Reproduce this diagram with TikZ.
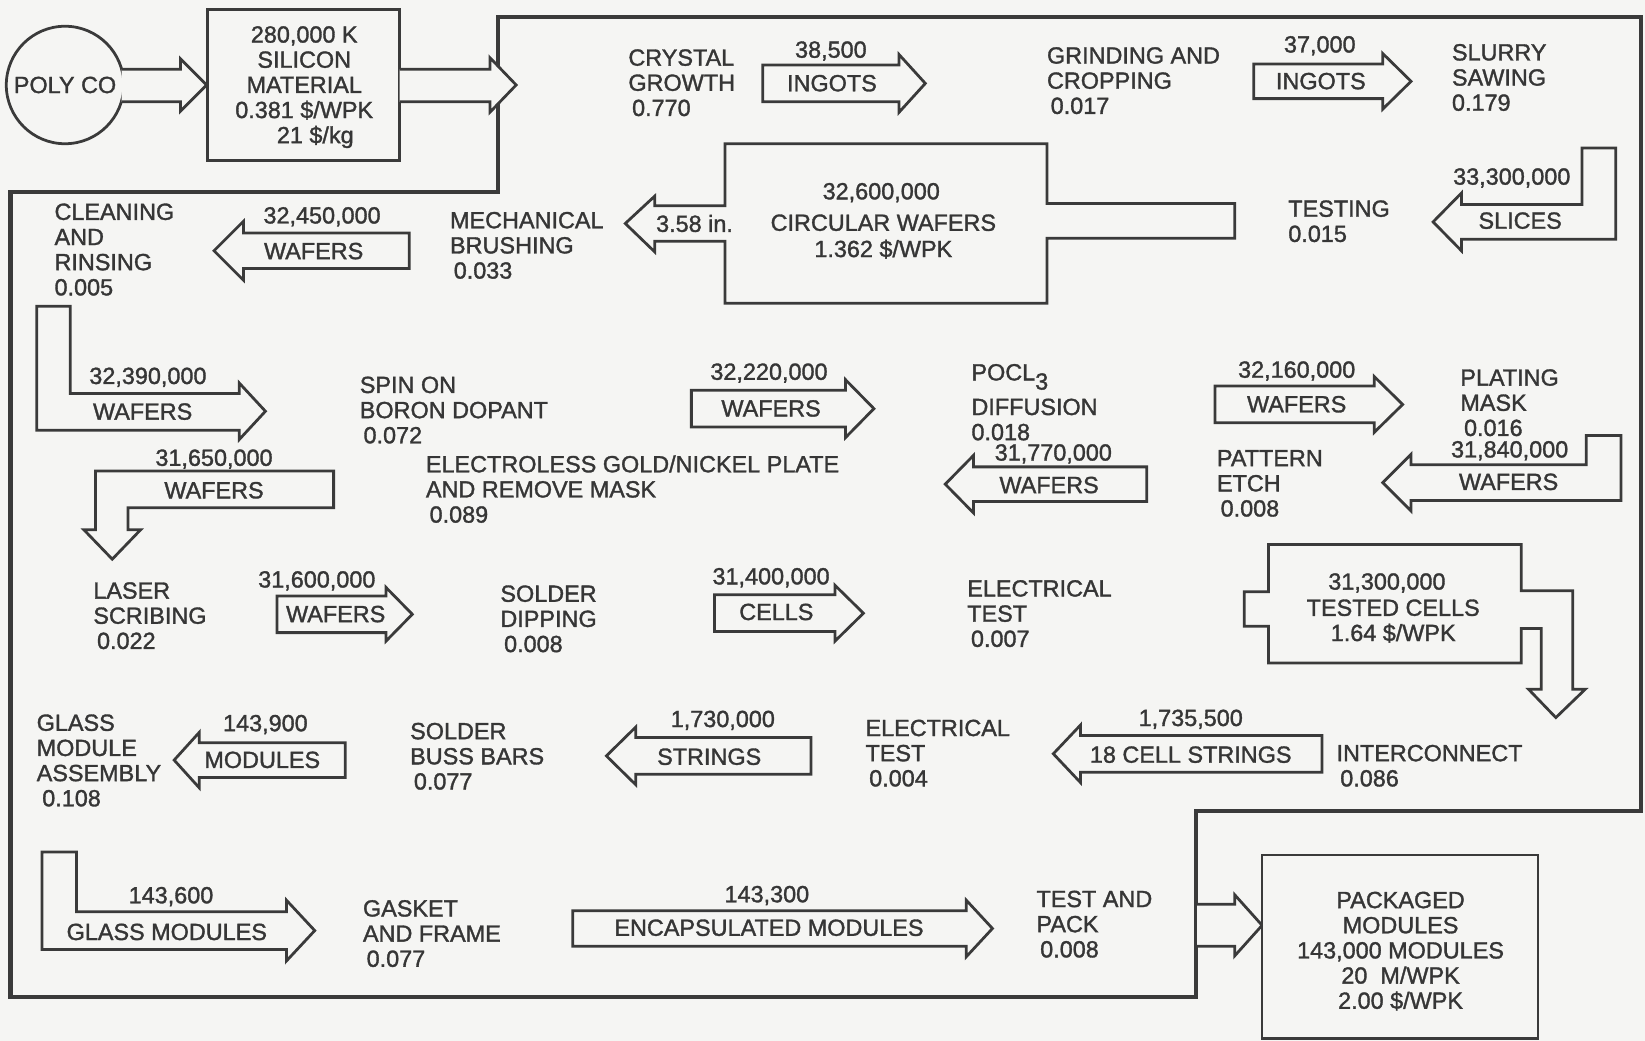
\documentclass[tikz,border=0pt]{standalone}
\usepackage{fontspec}
\setmainfont{Liberation Sans}[FakeBold=1.4]
\definecolor{bgc}{HTML}{F5F5F3}
\definecolor{ink}{HTML}{3A3A3A}
\definecolor{txt}{HTML}{363636}
\tikzset{
 lbl/.style={anchor=north west, inner sep=0pt, outer sep=0pt, align=left, text=txt},
 ctr/.style={anchor=base, inner sep=0pt, outer sep=0pt, text=txt},
 cbox/.style={anchor=north, inner sep=0pt, outer sep=0pt, align=center, text=txt},
 shp/.style={draw=ink, line width=1.5pt, fill=bgc, line join=miter},
 frameline/.style={draw=ink, line width=2.3pt, line join=miter},
}
% block arrow: x-start, x-headbase, x-tip, y-top, y-bottom, overhang
\newcommand\blockarrow[6]{%
 \draw[shp] (#1,#4) -- (#2,#4) -- (#2,{#4-#6}) -- (#3,{(#4+#5)/2}) -- (#2,{#5+#6}) -- (#2,#5) -- (#1,#5) -- cycle;}
\begin{document}
\begin{tikzpicture}[x=0.02cm,y=-0.02cm,font=\fontsize{12.7}{13.65}\selectfont]
\useasboundingbox (0,0) rectangle (1568,992);
\fill[bgc] (0,0) rectangle (1568,992);

% main frame
\draw[frameline] (10,183) -- (475,183) -- (475,16) -- (1564,16) -- (1564,773) -- (1140,773) -- (1140,950) -- (10,950) -- cycle;

% source circle and silicon box
\draw[shp] (62,81) circle (56);
\node[inner sep=0pt, text=txt] (polyco) at (62,81) {POLY CO};
\draw[shp] (116,66) -- (172,66) -- (172,56) -- (197,81) -- (172,106) -- (172,97) -- (116,97);
\draw[shp] (198,9) rectangle (381,153);
\node[cbox] (silicon) at (290,25) {280,000 K\\SILICON\\MATERIAL\\0.381 \$/WPK\\\hspace*{12pt}21 \$/kg};
\draw[shp] (381,66) -- (467,66) -- (467,55) -- (492,81) -- (467,107) -- (467,97) -- (381,97);

% row 1
\node[lbl] (crystal) at (599,47) {CRYSTAL\\GROWTH\\\hspace*{2pt}0.770};
\blockarrow{727}{857}{882}{62}{97}{10}
\node[ctr] (n38) at (792,55) {38,500};
\node[ctr] (ing1) at (793,87) {INGOTS};
\node[lbl] (grind) at (998,45) {GRINDING AND\\CROPPING\\\hspace*{2pt}0.017};
\blockarrow{1195}{1318}{1345}{61}{94}{10}
\node[ctr] (n37) at (1258,50) {37,000};
\node[ctr] (ing2) at (1259,85) {INGOTS};
\node[lbl] (slurry) at (1384,42) {SLURRY\\SAWING\\0.179};

% row 2
\draw[shp] (1508,141) -- (1540,141) -- (1540,228) -- (1393,228) -- (1393,239) -- (1366,211.5) -- (1393,184) -- (1393,195) -- (1508,195) -- cycle;
\node[ctr] (n333) at (1441,176) {33,300,000};
\node[ctr] (slices) at (1449,218) {SLICES};
\node[lbl] (testing) at (1228,191) {TESTING\\0.015};
\draw[shp] (691,137) -- (998,137) -- (998,194) -- (1177,194) -- (1177,227) -- (998,227) -- (998,289) -- (691,289) -- (691,230) -- (624,230) -- (624,240) -- (596,213) -- (624,187) -- (624,196) -- (691,196) -- cycle;
\node[ctr] (dia) at (662,221) {3.58 in.};
\node[ctr] (n326) at (840,190) {32,600,000};
\node[ctr] (circ) at (842,220) {CIRCULAR WAFERS};
\node[ctr] (c1362) at (842,245) {1.362 \$/WPK};
\node[lbl] (mech) at (429,202) {MECHANICAL\\BRUSHING\\\hspace*{2pt}0.033};
\blockarrow{390}{232}{204}{222}{256}{11}
\node[ctr] (n3245) at (307,213) {32,450,000};
\node[ctr] (w1) at (299,247) {WAFERS};
\node[lbl] (clean) at (52,194) {CLEANING\\AND\\RINSING\\0.005};

% row 3
\draw[shp] (35,292) -- (67,292) -- (67,375) -- (228,375) -- (228,365) -- (253,392) -- (228,419) -- (228,410) -- (35,410) -- cycle;
\node[ctr] (n3239) at (141,366) {32,390,000};
\node[ctr] (w2) at (136,400) {WAFERS};
\node[lbl] (spin) at (343,359) {SPIN ON\\BORON DOPANT\\\hspace*{2pt}0.072};
\blockarrow{659}{806}{833}{372}{407}{10}
\node[ctr] (n3222) at (733,362) {32,220,000};
\node[ctr] (w3) at (735,397) {WAFERS};
\node[lbl] (pocl) at (926,347) {POCL\raisebox{-5pt}{3}};
\node[lbl] (diff) at (926,380) {DIFFUSION\\0.018};
\blockarrow{1158}{1310}{1337}{368}{403}{9}
\node[ctr] (n3216) at (1236,360) {32,160,000};
\node[ctr] (w4) at (1236,393) {WAFERS};
\node[lbl] (plating) at (1392,352) {PLATING\\MASK\\\hspace*{2pt}0.016};

% row 4
\draw[shp] (1512,415) -- (1545,415) -- (1545,477) -- (1345,477) -- (1345,487) -- (1318,460) -- (1345,433) -- (1345,443) -- (1512,443) -- cycle;
\node[ctr] (n3184) at (1439,436) {31,840,000};
\node[ctr] (w5) at (1438,467) {WAFERS};
\node[lbl] (pattern) at (1160,429) {PATTERN\\ETCH\\\hspace*{2pt}0.008};
\blockarrow{1093}{928}{901}{445}{478}{11}
\node[ctr] (n3177) at (1004,439) {31,770,000};
\node[ctr] (w6) at (1000,470) {WAFERS};
\node[lbl] (electroless) at (406,434) {ELECTROLESS GOLD/NICKEL PLATE\\AND REMOVE MASK\\\hspace*{2pt}0.089};
\draw[shp] (318,449) -- (318,484) -- (122,484) -- (122,505) -- (134,505) -- (107,533) -- (80,505) -- (91,505) -- (91,449) -- cycle;
\node[ctr] (n3165) at (204,444) {31,650,000};
\node[ctr] (w7) at (204,475) {WAFERS};

% row 5
\node[lbl] (laser) at (89,555) {LASER\\SCRIBING\\\hspace*{2pt}0.022};
\blockarrow{264}{368}{393}{568}{603}{8}
\node[ctr] (n316) at (302,560) {31,600,000};
\node[ctr] (w8) at (320,593) {WAFERS};
\node[lbl] (dip) at (477,558) {SOLDER\\DIPPING\\\hspace*{2pt}0.008};
\blockarrow{681}{796}{823}{567}{602}{9}
\node[ctr] (n314) at (735,557) {31,400,000};
\node[ctr] (cells) at (740,591) {CELLS};
\node[lbl] (etest1) at (922,553) {ELECTRICAL\\TEST\\\hspace*{2pt}0.007};
\draw[shp] (1209,519) -- (1450,519) -- (1450,563) -- (1499,563) -- (1499,657) -- (1511,657) -- (1483,684) -- (1457,657) -- (1469,657) -- (1469,599) -- (1450,599) -- (1450,632) -- (1209,632) -- (1209,597) -- (1186,597) -- (1186,564) -- (1209,564) -- cycle;
\node[ctr] (n313) at (1322,562) {31,300,000};
\node[ctr] (tested) at (1328,587) {TESTED CELLS};
\node[ctr] (c164) at (1328,611) {1.64 \$/WPK};

% row 6
\node[lbl] (inter) at (1274,710) {INTERCONNECT\\\hspace*{2pt}0.086};
\blockarrow{1260}{1030}{1004}{701}{736}{10}
\node[ctr] (n17355) at (1135,692) {1,735,500};
\node[ctr] (strings18) at (1135,727) {18 CELL STRINGS};
\node[lbl] (etest2) at (825,686) {ELECTRICAL\\TEST\\\hspace*{2pt}0.004};
\blockarrow{773}{606}{578}{703}{738}{10}
\node[ctr] (n173) at (689,693) {1,730,000};
\node[ctr] (strings) at (676,729) {STRINGS};
\node[lbl] (buss) at (391,689) {SOLDER\\BUSS BARS\\\hspace*{2pt}0.077};
\blockarrow{329}{190}{166}{708}{741}{10}
\node[ctr] (n1439) at (253,697) {143,900};
\node[ctr] (mods) at (250,732) {MODULES};
\node[lbl] (glass) at (35,681) {GLASS\\MODULE\\ASSEMBLY\\\hspace*{3pt}0.108};

% row 7
\draw[shp] (40,812) -- (73,812) -- (73,869) -- (273,869) -- (273,858) -- (300,887) -- (273,916) -- (273,905) -- (40,905) -- cycle;
\node[ctr] (n1436) at (163,861) {143,600};
\node[ctr] (gmods) at (159,896) {GLASS MODULES};
\node[lbl] (gasket) at (346,858) {GASKET\\AND FRAME\\\hspace*{2pt}0.077};
\blockarrow{546}{921}{946}{868}{902}{10}
\node[ctr] (n1433) at (731,860) {143,300};
\node[ctr] (encap) at (733,892) {ENCAPSULATED MODULES};
\node[lbl] (tpack) at (988,849) {TEST AND\\PACK\\\hspace*{2pt}0.008};

% output
\draw[shp] (1141,862) -- (1177,862) -- (1177,853) -- (1203,882) -- (1177,911) -- (1177,902) -- (1141,902);
\draw[shp] (1203,815) rectangle (1466,990);
\node[cbox] (packaged) at (1335,850) {PACKAGED\\MODULES\\143,000 MODULES\\20\ \ M/WPK\\2.00 \$/WPK};
\end{tikzpicture}
\end{document}
